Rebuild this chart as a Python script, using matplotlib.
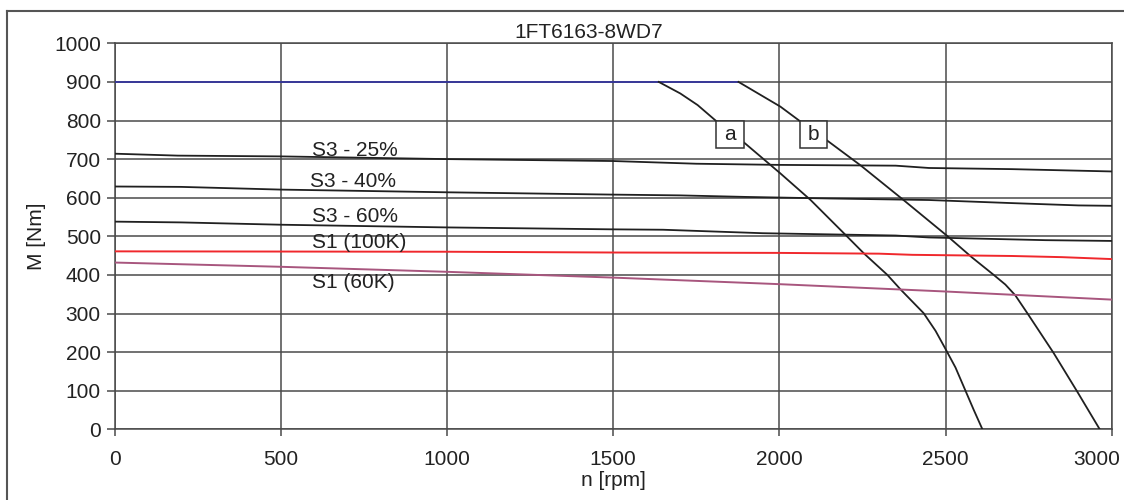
import matplotlib
matplotlib.use("Agg")
import matplotlib.pyplot as plt
from matplotlib.lines import Line2D
from matplotlib.patches import Rectangle
from matplotlib.transforms import ScaledTranslation

plt.rcParams['font.family'] = ['Liberation Sans', 'DejaVu Sans']

title = "1FT6163-8WD7"
x_label = "n [rpm]"
y_label = "M [Nm]"
x_ticks = [0, 500, 1000, 1500, 2000, 2500, 3000]
y_ticks = [0, 100, 200, 300, 400, 500, 600, 700, 800, 900, 1000]

# Maximum torque line (blue)
max_n = [0, 1877]
max_m = [900, 900]

# Voltage limit curves
a_n = [1637, 1702, 1754, 1808, 1895, 2003, 2094, 2194, 2254, 2325, 2365, 2434, 2470, 2500, 2530, 2560, 2585, 2611]
a_m = [900, 870, 840, 800, 742, 663, 594, 508, 456, 400, 362, 301, 255, 208, 160, 100, 50, 0]
b_n = [1877, 2003, 2064, 2144, 2244, 2375, 2505, 2580, 2645, 2680, 2710, 2746, 2825, 2896, 2964]
b_m = [900, 836, 797, 748, 684, 593, 501, 445, 400, 375, 347, 301, 198, 98, 0]

# Duty-cycle curves
s3_25_n = [0, 190, 500, 1000, 1500, 1750, 2000, 2350, 2450, 2700, 3000]
s3_25_m = [714, 709, 707, 700, 695, 688, 685, 683, 677, 674, 668]
s3_40_n = [0, 200, 500, 1000, 1500, 1700, 1900, 2150, 2450, 2700, 2900, 3000]
s3_40_m = [629, 628, 621, 614, 608, 606, 602, 598, 594, 586, 580, 579]
s3_60_n = [0, 200, 500, 1000, 1500, 1650, 1950, 2350, 2450, 2800, 3000]
s3_60_m = [538, 536, 530, 523, 518, 517, 508, 502, 497, 490, 488]
s1_100_n = [0, 1000, 1500, 2000, 2300, 2400, 2700, 2850, 3000]
s1_100_m = [461, 460, 458, 457, 455, 452, 449, 446, 441]
s1_60_n = [0, 500, 1000, 1500, 2000, 2500, 3000]
s1_60_m = [432, 421, 408, 393, 376, 357, 336]

curve_labels = ["S3 - 25%", "S3 - 40%", "S3 - 60%", "S1 (100K)", "S1 (60K)"]
curve_label_pos = [(594, 722), (589, 643), (594, 552), (594, 483), (594, 380)]
box_labels = ["a", "b"]
box_label_pos = [(1851, 763), (2103, 763)]

fig = plt.figure(figsize=(11.24, 5.0), dpi=100)
W, H = 1124, 500
L, R, T, B = 114.7, 1111.7, 43.3, 429.3
ax = fig.add_axes([L / W, 1 - B / H, (R - L) / W, (B - T) / H])

ax.set_xlim(0, 3000)
ax.set_ylim(0, 1000)
ax.set_xticks(x_ticks)
ax.set_yticks(y_ticks)
ax.grid(True, color='#4a4a4a', linewidth=1.1)
ax.set_axisbelow(True)
for s in ax.spines.values():
    s.set_color('#4a4a4a')
    s.set_linewidth(1.1)
ax.tick_params(axis='both', colors='#4a4a4a', labelcolor='#222222', labelsize=15,
               width=1.1)
ax.tick_params(axis='y', length=6, pad=4)
ax.tick_params(axis='x', length=5, pad=10)

# keep the last x tick label inside the figure, as in the reference
last = ax.get_xticklabels()[-1]
last.set_transform(last.get_transform() + ScaledTranslation(-0.15, 0, fig.dpi_scale_trans))

ax.plot(max_n, max_m, color='#34349c', linewidth=1.3, zorder=3)
for n, m in [(a_n, a_m), (b_n, b_m), (s3_25_n, s3_25_m), (s3_40_n, s3_40_m), (s3_60_n, s3_60_m)]:
    ax.plot(n, m, color='#202020', linewidth=1.3, zorder=3)
ax.plot(s1_100_n, s1_100_m, color='#f0282c', linewidth=1.4, zorder=3)
ax.plot(s1_60_n, s1_60_m, color='#a8567e', linewidth=1.4, zorder=3)

for lab, (x, y) in zip(curve_labels, curve_label_pos):
    ax.text(x, y, lab, fontsize=15, color='#222222', ha='left', va='center', zorder=5)

for lab, (x, y) in zip(box_labels, box_label_pos):
    ax.add_patch(Rectangle((x - 41.5, y - 35), 83, 70, facecolor='white',
                           edgecolor='#333333', linewidth=1.1, zorder=4))
    ax.text(x, y, lab, fontsize=15, color='#222222', ha='center', va='center', zorder=5)

fig.text(589 / W, 1 - 32 / H, title, fontsize=15, color='#222222', ha='center', va='center')
ax.set_xlabel(x_label, fontsize=15, color='#222222', labelpad=1)
ax.set_ylabel(y_label, fontsize=15, color='#222222', labelpad=6)

# outer frame
fig.add_artist(Line2D([7 / W, 1.0], [1 - 11 / H, 1 - 11 / H], transform=fig.transFigure,
                      color='#555555', linewidth=1.5))
fig.add_artist(Line2D([7 / W, 7 / W], [1 - 11 / H, 0.0], transform=fig.transFigure,
                      color='#555555', linewidth=1.5))

fig.savefig("out.png", dpi=100)
